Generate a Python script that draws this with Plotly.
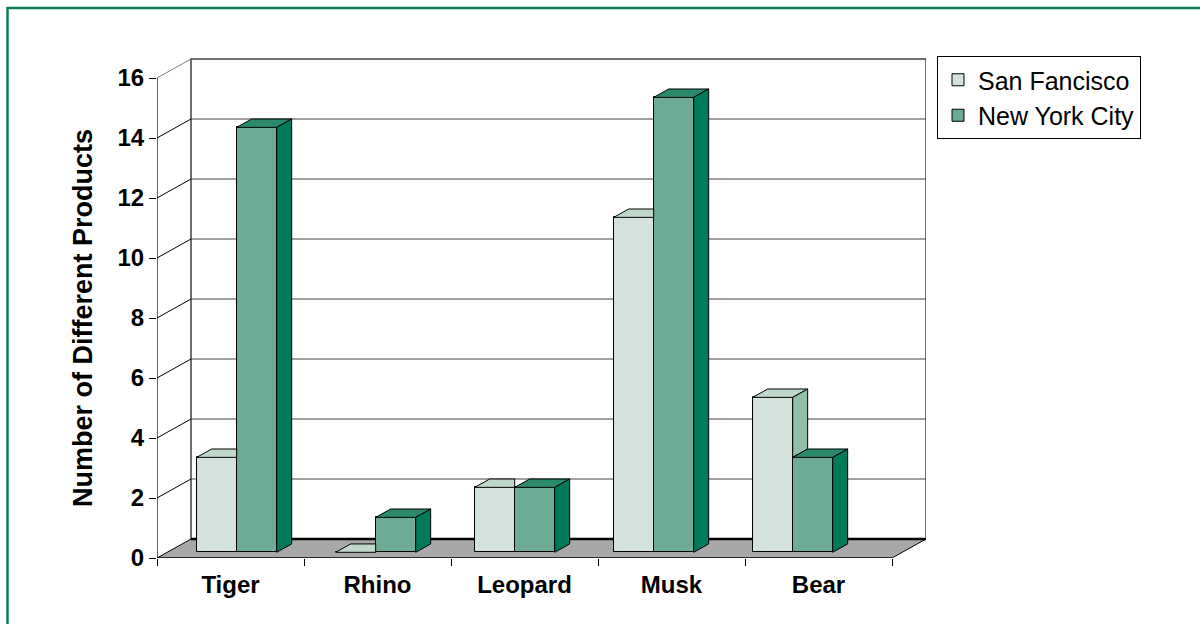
import plotly.graph_objects as go

# ---------------- data ----------------
categories = ["Tiger", "Rhino", "Leopard", "Musk", "Bear"]
san_francisco = [3, 0, 2, 11, 5]
new_york_city = [14, 1, 2, 15, 3]
series_names = ["San Fancisco", "New York City"]
y_ticks = [0, 2, 4, 6, 8, 10, 12, 14, 16]
y_title = "Number of Different Products"

# ---------------- styles / geometry ----------------
FONT = "Liberation Sans, Arial, sans-serif"
SF_FRONT, SF_TOP, SF_SIDE = "#d3e3dc", "#bfd7cb", "#8fbfa9"
NY_FRONT, NY_TOP, NY_SIDE = "#6dab95", "#2b8a6c", "#007a58"
FLOOR = "#a8a8a8"
GRID = "#808080"
FRAME = "#0b7b5d"

W, H = 1200, 624
ML, MR, MT, MB = 157, 274, 58, 66
PX_X = 139.0          # px per category unit (bar spacing)
PX_Y = 30.0           # px per value unit
DX = 34.0 / PX_X      # depth offset of back wall (x units)
DY = 19.0 / PX_Y      # depth offset of back wall (y units)
CW = 147.0 / PX_X     # axis category width
ZB = 0.30             # depth of bar front faces
ZD = 0.44             # bar depth
BW = 40.0 / PX_X      # bar width

x0 = -0.5
x_end = x0 + len(categories) * CW
x_max = x0 + (W - ML - MR) / PX_X
y_max = (H - MT - MB) / PX_Y
top_v = y_ticks[-1]

fig = go.Figure()

xo, base = ZB * DX, ZB * DY
ex, ey = ZD * DX, ZD * DY
# bar tops are read against the back-wall gridlines (top back edge at value level)
LIFT = DY - ey - base


def height(v):
    return v + LIFT if v > 0 else 0.0


idx = list(range(len(categories)))

# front faces as bars
fig.add_trace(go.Bar(
    x=[i - BW / 2 + xo for i in idx], y=[height(v) for v in san_francisco],
    base=[base] * len(idx), width=BW, name=series_names[0],
    customdata=san_francisco, hovertemplate="%{customdata}<extra></extra>",
    marker=dict(color=SF_FRONT, line=dict(color="black", width=1))))
fig.add_trace(go.Bar(
    x=[i + BW / 2 + xo for i in idx], y=[height(v) for v in new_york_city],
    base=[base] * len(idx), width=BW, name=series_names[1],
    customdata=new_york_city, hovertemplate="%{customdata}<extra></extra>",
    marker=dict(color=NY_FRONT, line=dict(color="black", width=1))))

# tops and sides
def poly_trace(polys, color):
    xs, ys = [], []
    for p in polys:
        for (a, b) in p + [p[0]]:
            xs.append(a)
            ys.append(b)
        xs.append(None)
        ys.append(None)
    return go.Scatter(x=xs, y=ys, mode="lines", fill="toself", fillcolor=color,
                      line=dict(color="black", width=1), showlegend=False,
                      hoverinfo="skip")

sf_tops, sf_sides, ny_tops, ny_sides = [], [], [], []
for i, s, n in zip(idx, san_francisco, new_york_city):
    xl = i - BW + xo
    xr = i + xo
    t = base + height(s)
    tn = base + height(n)
    if tn >= t:
        sf_tops.append([(xl, t), (xr, t), (xr, t + ey), (xl + ex, t + ey)])
    else:
        sf_tops.append([(xl, t), (xr, t), (xr + ex, t + ey), (xl + ex, t + ey)])
        sf_sides.append([(xr, tn), (xr, t), (xr + ex, t + ey), (xr + ex, tn + ey)])
    ny_tops.append([(xr, tn), (xr + BW, tn), (xr + BW + ex, tn + ey), (xr + ex, tn + ey)])
    ny_sides.append([(xr + BW, base), (xr + BW, tn), (xr + BW + ex, tn + ey), (xr + BW + ex, base + ey)])

fig.add_trace(poly_trace(sf_tops, SF_TOP))
if sf_sides:
    fig.add_trace(poly_trace(sf_sides, SF_SIDE))
fig.add_trace(poly_trace(ny_tops, NY_TOP))
fig.add_trace(poly_trace(ny_sides, NY_SIDE))

# ---------------- walls, floor, axes lines ----------------
shapes = []
bx0, bx1 = x0 + DX, x_end + DX
# floor
shapes.append(dict(type="path", xref="x", yref="y", layer="below",
                   path=f"M{x0},0 L{x_end},0 L{x_end + DX},{DY} L{bx0},{DY} Z",
                   fillcolor=FLOOR, line=dict(color="black", width=1)))
# back wall gridlines
for v in y_ticks[1:-1]:
    shapes.append(dict(type="line", xref="x", yref="y", layer="below",
                       x0=bx0, x1=bx1, y0=v + DY, y1=v + DY,
                       line=dict(color=GRID, width=1.5)))
# back wall frame
shapes.append(dict(type="rect", xref="x", yref="y", layer="below",
                   x0=bx0, x1=bx1, y0=DY, y1=top_v + DY,
                   line=dict(color="#404040", width=1.5)))
# floor back edge
shapes.append(dict(type="line", xref="x", yref="y", layer="below",
                   x0=bx0, x1=bx1, y0=DY, y1=DY, line=dict(color="black", width=2.5)))
# side diagonals
for v in y_ticks[1:]:
    shapes.append(dict(type="line", xref="x", yref="y", layer="below",
                       x0=x0, x1=bx0, y0=v, y1=v + DY,
                       line=dict(color=GRID if v == top_v else "black", width=1)))
# front y axis line
shapes.append(dict(type="line", xref="x", yref="y", x0=x0, x1=x0, y0=0, y1=top_v,
                   line=dict(color="black", width=1.2)))
# front x axis line
shapes.append(dict(type="line", xref="x", yref="y", x0=x0, x1=x_end, y0=0, y1=0,
                   line=dict(color="black", width=1.2)))
# outer green frame
pw, ph = W - ML - MR, H - MT - MB
shapes.append(dict(type="rect", xref="paper", yref="paper",
                   x0=(7.5 - ML) / pw, x1=(W + 20 - ML) / pw,
                   y0=(H - MB - (H + 20)) / ph, y1=(H - MB - 8) / ph,
                   line=dict(color=FRAME, width=2.5)))

label_pos = [x0 + (k + 0.5) * CW for k in idx]
bound_pos = [x0 + k * CW for k in range(len(categories) + 1)]

# y-axis title centred on the front value axis (0..16)
annotations = [dict(text=y_title, textangle=-90, xref="paper", yref="y",
                    x=(83 - ML) / pw, y=top_v / 2, xanchor="center", yanchor="middle",
                    showarrow=False,
                    font=dict(family=FONT, size=27, weight="bold", color="black"))]

fig.update_layout(
    width=W, height=H,
    margin=dict(l=ML, r=MR, t=MT, b=MB, autoexpand=False),
    paper_bgcolor="white", plot_bgcolor="white",
    barmode="overlay", bargap=0,
    shapes=shapes, annotations=annotations,
    font=dict(family=FONT, color="black"),
    showlegend=True,
    legend=dict(x=(937 - ML) / pw, y=(H - MB - 56) / ph, xanchor="left", yanchor="top",
                font=dict(family=FONT, size=25, color="black"),
                bordercolor="black", borderwidth=1, bgcolor="white",
                tracegroupgap=4, itemwidth=30),
    xaxis=dict(range=[x0, x_max], showgrid=False, zeroline=False, showline=False,
               tickmode="array", tickvals=label_pos, ticktext=categories,
               ticks="", ticklabelstandoff=10,
               tickfont=dict(family=FONT, size=24, weight="bold", color="black"),
               minor=dict(tickmode="array", tickvals=bound_pos, ticks="outside",
                          ticklen=7, tickcolor="black", tickwidth=1.2, showgrid=False),
               fixedrange=True),
    yaxis=dict(range=[0, y_max], showgrid=False, zeroline=False, showline=False,
               tickmode="array", tickvals=y_ticks, ticks="outside", ticklen=7,
               tickcolor="black", tickwidth=1.2,
               tickfont=dict(family=FONT, size=24, weight="bold", color="black"),
               fixedrange=True),
)

fig.write_html("out.html", config={"displayModeBar": False},
               post_script="document.body.style.margin='0';document.body.style.overflow='hidden';")
